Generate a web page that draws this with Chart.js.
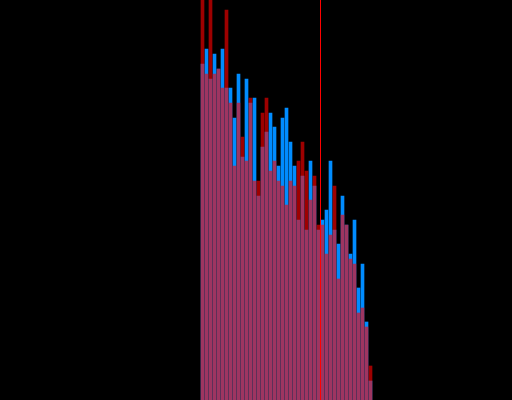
<!DOCTYPE html>
<html>
<head>
<meta charset="utf-8">
<script src="https://cdn.jsdelivr.net/npm/chart.js@4/dist/chart.umd.min.js"></script>
<style>
  html, body { margin: 0; padding: 0; background: #000; }
  #wrap { width: 512px; height: 400px; background: #000; }
  canvas { display: block; }
</style>
</head>
<body>
<div id="wrap"><canvas id="c" width="512" height="400"></canvas></div>
<script>
// Bin indices (categories)
const categories = [0,1,2,3,4,5,6,7,8,9,10,11,12,13,14,15,16,17,18,19,20,21,22,23,24,25,26,27,28,29,30,31,32,33,34,35,36,37,38,39,40,41,42];

// Series A (blue)
const blueValues = [84, 87.75, 80.25, 86.5, 82.75, 87.75, 78, 78, 70.5, 81.5, 60.75, 80.25, 74.25, 75.5, 51, 63.25, 67, 71.75, 68.25, 58.5, 70.5, 73, 64.5, 58.5, 45, 56, 42.5, 59.75, 53.5, 42.5, 45, 47.5, 59.75, 42.5, 39, 51, 43.75, 36.5, 45, 28, 34, 19.5, 4.75];

// Series B (red, translucent)
const redValues = [103, 81.5, 103, 81.5, 82.75, 78, 97.5, 74.25, 58.5, 74.25, 65.75, 59.75, 75.5, 54.75, 54.75, 71.75, 75.5, 57.25, 59.75, 54.75, 53.5, 48.75, 54.75, 53.5, 59.75, 64.5, 57.25, 50, 56, 43.75, 43.75, 36.5, 41.25, 53.5, 30.25, 46.25, 43.75, 35.25, 34, 21.75, 23, 18.25, 8.5];

// Threshold marker (bin position)
const thresholdBin = 29.5;

// Axis ranges
const xRange = [-50.625, 77.375];
const yRange = [0, 100];

const toPoints = (vals) => categories.map((c, i) => ({ x: c, y: vals[i] }));

new Chart(document.getElementById('c'), {
  type: 'bar',
  data: {
    datasets: [
      {
        label: 'A',
        data: toPoints(blueValues),
        backgroundColor: 'rgb(0,140,255)',
        borderWidth: 0,
        barThickness: 3,
        grouped: false,
        order: 3
      },
      {
        label: 'B',
        data: toPoints(redValues),
        backgroundColor: 'rgba(255,0,0,0.62)',
        borderWidth: 0,
        barThickness: 3,
        grouped: false,
        order: 2
      },
      {
        type: 'line',
        label: 'threshold',
        data: [{ x: thresholdBin, y: yRange[0] }, { x: thresholdBin, y: yRange[1] }],
        borderColor: 'rgb(255,0,0)',
        borderWidth: 1,
        pointRadius: 0,
        fill: false,
        order: 1
      }
    ]
  },
  options: {
    responsive: false,
    animation: false,
    devicePixelRatio: 1,
    layout: { padding: 0 },
    plugins: { legend: { display: false }, tooltip: { enabled: false } },
    scales: {
      x: { type: 'linear', min: xRange[0], max: xRange[1], offset: false, display: false, grid: { display: false } },
      y: { type: 'linear', min: yRange[0], max: yRange[1], display: false, grid: { display: false } }
    }
  }
});
</script>
</body>
</html>
